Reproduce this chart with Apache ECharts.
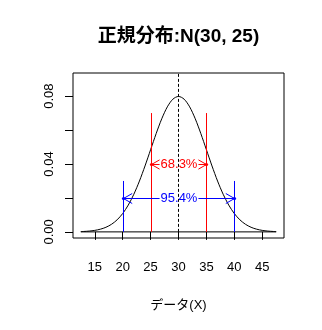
<!DOCTYPE html>
<html>
<head>
<meta charset="utf-8">
<script src="https://cdn.jsdelivr.net/npm/echarts@6/dist/echarts.min.js"></script>
<style>
  html, body { margin: 0; padding: 0; background: #fff; }
  #chart { width: 322px; height: 330px; }
</style>
</head>
<body>
<div id="chart"></div>
<script>
// Density of N(30, 25) (mean 30, sd 5), sampled along the plotted range
const densityX = [12.5, 13, 14, 15, 16, 17, 18, 19, 20, 21, 22, 23, 24, 25, 26, 27, 28, 29, 30,
                  31, 32, 33, 34, 35, 36, 37, 38, 39, 40, 41, 42, 43, 44, 45, 46, 47, 47.5];
const densityY = [0.000175, 0.000246, 0.000477, 0.000886, 0.001583, 0.002717, 0.004479, 0.007095,
                  0.010798, 0.015790, 0.022184, 0.029946, 0.038837, 0.048394, 0.057938, 0.066645,
                  0.073654, 0.078209, 0.079788, 0.078209, 0.073654, 0.066645, 0.057938, 0.048394,
                  0.038837, 0.029946, 0.022184, 0.015790, 0.010798, 0.007095, 0.004479, 0.002717,
                  0.001583, 0.000886, 0.000477, 0.000246, 0.000175];

const meanX = 30;
const baseRange = [12.5, 47.5];

// Axis ranges and ticks
const xRange = [11.1, 48.9];
const yRange = [-0.0036, 0.0936];
const xTicks = [15, 20, 25, 30, 35, 40, 45];
const yTicks = [0, 0.02, 0.04, 0.06, 0.08];
const yTickLabels = [0, 0.04, 0.08];

// mean ± 1 sd and mean ± 2 sd bands: [left x, right x, guide height, arrow level]
const bandLeft = [25, 20];
const bandRight = [35, 40];
const bandHeight = [0.07, 0.03];
const arrowLevel = [0.04, 0.02];
const bandLabels = ['68.3%', '95.4%'];
const bandColors = ['#ff0000', '#0000ff'];

const titleText = '正規分布:N(30, 25)';
const xName = 'データ(X)';

const FONT = "'Liberation Sans', Arial, 'Noto Sans CJK JP', sans-serif";

const chart = echarts.init(document.getElementById('chart'), null, { renderer: 'canvas' });

const px = v => Math.round(v) + 0.5;

function renderBand(params, api) {
  const i = params.dataIndex;
  const color = bandColors[i];
  const x1 = api.value(0), x2 = api.value(1), top = api.value(2), ay = api.value(3);
  const lb = api.coord([x1, 0]), lt = api.coord([x1, top]);
  const rb = api.coord([x2, 0]), rt = api.coord([x2, top]);
  const a1 = api.coord([x1, ay]), a2 = api.coord([x2, ay]);
  const lx = px(lb[0]), rx = px(rb[0]), yy = px(a1[1]);
  const hx = 8.7, hy = 5;
  const line = { stroke: color, lineWidth: 1, fill: null };
  return {
    type: 'group',
    children: [
      { type: 'line', shape: { x1: lx, y1: lb[1], x2: lx, y2: lt[1] }, style: line },
      { type: 'line', shape: { x1: rx, y1: rb[1], x2: rx, y2: rt[1] }, style: line },
      { type: 'line', shape: { x1: lx, y1: yy, x2: rx, y2: yy }, style: line },
      { type: 'polyline', shape: { points: [[lx + hx, yy - hy], [lx, yy], [lx + hx, yy + hy]] }, style: line },
      { type: 'polyline', shape: { points: [[rx - hx, yy - hy], [rx, yy], [rx - hx, yy + hy]] }, style: line },
      { type: 'circle', shape: { cx: lx, cy: yy, r: 1.6 }, style: { fill: color } },
      { type: 'circle', shape: { cx: rx, cy: yy, r: 1.6 }, style: { fill: color } },
      {
        type: 'text',
        x: (lx + rx) / 2,
        y: yy,
        style: {
          text: bandLabels[i],
          fill: color,
          font: '13px ' + FONT,
          align: 'center',
          verticalAlign: 'middle',
          backgroundColor: '#fff',
          padding: [0, 1]
        }
      }
    ]
  };
}

const option = {
  animation: false,
  backgroundColor: '#fff',
  title: {
    text: titleText,
    left: 178.5,
    top: 27,
    textAlign: 'center',
    padding: 0,
    textStyle: { fontFamily: FONT, fontSize: 19, fontWeight: 'bold', color: '#000' }
  },
  grid: {
    left: 73, right: 38, top: 73, bottom: 92,
    show: true, borderColor: '#000', borderWidth: 1, backgroundColor: 'transparent'
  },
  xAxis: {
    type: 'value',
    min: xRange[0], max: xRange[1],
    name: xName,
    nameLocation: 'middle',
    nameGap: 61,
    nameTextStyle: { fontFamily: FONT, fontSize: 13, color: '#000' },
    axisLine: { show: false },
    splitLine: { show: false },
    axisTick: { show: true, inside: false, length: 8, customValues: xTicks, lineStyle: { color: '#000' } },
    axisLabel: {
      customValues: xTicks, margin: 23, color: '#000',
      fontFamily: FONT, fontSize: 13
    }
  },
  yAxis: {
    type: 'value',
    min: yRange[0], max: yRange[1],
    axisLine: { show: false },
    splitLine: { show: false },
    axisTick: { show: true, inside: false, length: 8, customValues: yTicks, lineStyle: { color: '#000' } },
    axisLabel: {
      customValues: yTickLabels, rotate: 90, margin: 17, color: '#000',
      fontFamily: FONT, fontSize: 13,
      formatter: v => v.toFixed(2)
    }
  },
  series: [
    {
      name: 'baseline',
      type: 'line',
      data: [[baseRange[0], 0], [baseRange[1], 0]],
      symbol: 'none',
      lineStyle: { color: '#000', width: 1 },
      z: 1
    },
    {
      name: 'density',
      type: 'line',
      data: densityX.map((x, i) => [x, densityY[i]]),
      smooth: 0.3,
      symbol: 'none',
      lineStyle: { color: '#000', width: 1 },
      z: 2
    },
    {
      name: 'bands',
      type: 'custom',
      renderItem: renderBand,
      data: bandLeft.map((x, i) => [x, bandRight[i], bandHeight[i], arrowLevel[i]]),
      z: 3
    },
    {
      name: 'mean',
      type: 'line',
      data: [[meanX, 0], [meanX, yRange[1]]],
      symbol: 'none',
      lineStyle: { color: '#000', width: 1, type: [3, 2] },
      z: 4
    }
  ]
};

chart.setOption(option);
</script>
</body>
</html>
